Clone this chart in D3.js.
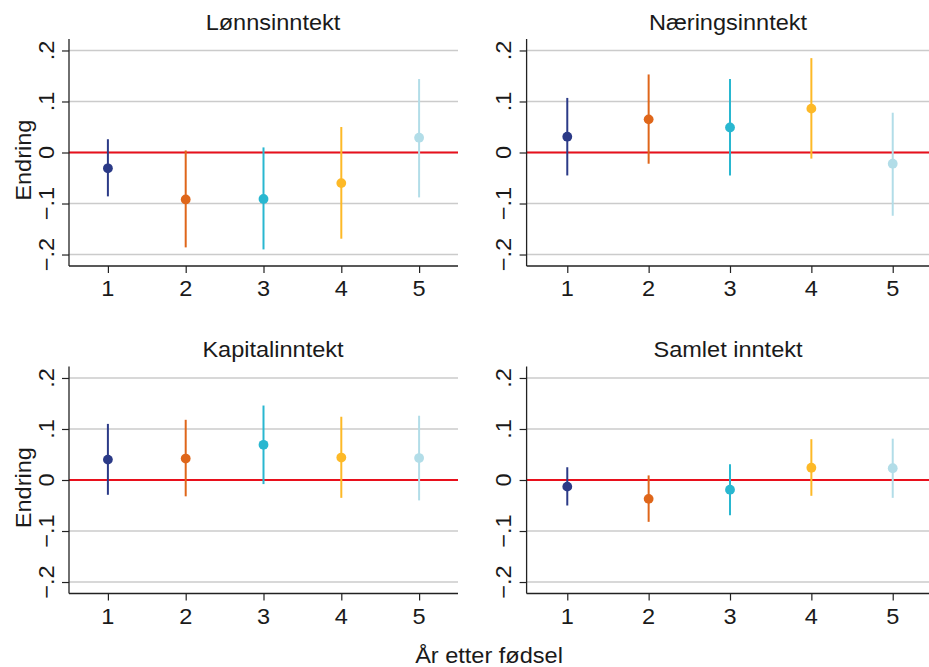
<!DOCTYPE html>
<html>
<head>
<meta charset="utf-8">
<script src="https://cdn.jsdelivr.net/npm/d3@7"></script>
<style>
  body { margin: 0; background: #fff; }
  text { font-family: "Liberation Sans", Arial, sans-serif; fill: #1a1a1a; }
</style>
</head>
<body>
<svg id="chart" width="929" height="667"></svg>
<script>
// year after birth
const years = [1, 2, 3, 4, 5];
const titles = ["Lønnsinntekt", "Næringsinntekt", "Kapitalinntekt", "Samlet inntekt"];
const yTicks = [-0.2, -0.1, 0, 0.1, 0.2];
const yTickLabels = ["−.2", "−.1", "0", ".1", ".2"];

// point estimates and confidence bounds, one array per panel
const est_lonn = [-0.031, -0.092, -0.091, -0.060, 0.029];
const lo_lonn  = [-0.086, -0.186, -0.190, -0.169, -0.088];
const hi_lonn  = [0.026, 0.004, 0.010, 0.050, 0.144];

const est_naering = [0.031, 0.065, 0.049, 0.086, -0.022];
const lo_naering  = [-0.045, -0.022, -0.045, -0.012, -0.124];
const hi_naering  = [0.107, 0.153, 0.144, 0.185, 0.078];

const est_kapital = [0.040, 0.042, 0.069, 0.044, 0.043];
const lo_kapital  = [-0.029, -0.032, -0.008, -0.035, -0.040];
const hi_kapital  = [0.110, 0.118, 0.146, 0.124, 0.126];

const est_samlet = [-0.013, -0.037, -0.019, 0.024, 0.023];
const lo_samlet  = [-0.050, -0.082, -0.069, -0.031, -0.035];
const hi_samlet  = [0.025, 0.009, 0.031, 0.080, 0.081];

const colors = ["#2b3a87", "#df661a", "#29b7d0", "#fdb927", "#b2dde8"];

const estimates = [est_lonn, est_naering, est_kapital, est_samlet];
const lows = [lo_lonn, lo_naering, lo_kapital, lo_samlet];
const highs = [hi_lonn, hi_naering, hi_kapital, hi_samlet];

const svg = d3.select("#chart");
const sx = 1.07; // glyphs are a bit wider in the original export

// panel frames: [left, right, top, bottom]
const frames = [
  [69, 458, 39, 266],
  [526.6, 933.4, 39, 266],
  [69, 458, 366.5, 593.5],
  [526.6, 933.4, 366.5, 593.5]
];

function txt(g, x, y, s, size, rot) {
  return g.append("text")
    .attr("transform", `translate(${x},${y}) rotate(${rot || 0}) scale(${sx},1)`)
    .attr("text-anchor", "middle")
    .style("font-size", size + "px")
    .text(s);
}

frames.forEach((f, p) => {
  const [left, right, top, bottom] = f;
  const x = d3.scaleLinear().domain([0.5, 5.5]).range([left, right]);
  const y = d3.scaleLinear().domain([-0.2225, 0.2225]).range([bottom, top]);
  const g = svg.append("g");

  // grid
  g.selectAll(".grid").data(yTicks).enter().append("line")
    .attr("x1", left).attr("x2", right)
    .attr("y1", d => y(d)).attr("y2", d => y(d))
    .attr("stroke", "#cbcbcb").attr("stroke-width", 1.4);

  // zero line
  g.append("line")
    .attr("x1", left).attr("x2", right)
    .attr("y1", y(0)).attr("y2", y(0))
    .attr("stroke", "#e8101c").attr("stroke-width", 2);

  // axes
  const yAxis = d3.axisLeft(y).tickValues(yTicks).tickSize(7).tickFormat("");
  const xAxis = d3.axisBottom(x).tickValues(years).tickSize(7).tickFormat("");
  const ya = g.append("g").attr("transform", `translate(${left},0)`).call(yAxis);
  const xa = g.append("g").attr("transform", `translate(0,${bottom})`).call(xAxis);
  [ya, xa].forEach(a => {
    a.select(".domain").attr("stroke", "#222").attr("stroke-width", 1.3)
      .attr("d", a === ya ? `M0,${top}V${bottom}` : `M${left},0H${right}`);
    a.selectAll(".tick line").attr("stroke", "#222").attr("stroke-width", 1.2);
  });

  yTicks.forEach((t, i) => txt(g, left - 15.5, y(t), yTickLabels[i], 22, -90));
  years.forEach(t => txt(g, x(t), bottom + 30, String(t), 22));

  // title
  txt(g, (left + right) / 2 + 9.5 - (p % 2) * 11.5, top - 9.5, titles[p], 22);
  if (p % 2 === 0) txt(g, left - 38, y(-0.015), "Endring", 22, -90);

  // error bars and points
  g.selectAll(".ci").data(years).enter().append("line")
    .attr("x1", d => x(d)).attr("x2", d => x(d))
    .attr("y1", (d, i) => y(lows[p][i])).attr("y2", (d, i) => y(highs[p][i]))
    .attr("stroke", (d, i) => colors[i]).attr("stroke-width", 2);
  g.selectAll(".pt").data(years).enter().append("circle")
    .attr("cx", d => x(d)).attr("cy", (d, i) => y(estimates[p][i]))
    .attr("r", 4.9).attr("fill", (d, i) => colors[i]);
});

txt(svg, 489, 662.5, "År etter fødsel", 22);
</script>
</body>
</html>
